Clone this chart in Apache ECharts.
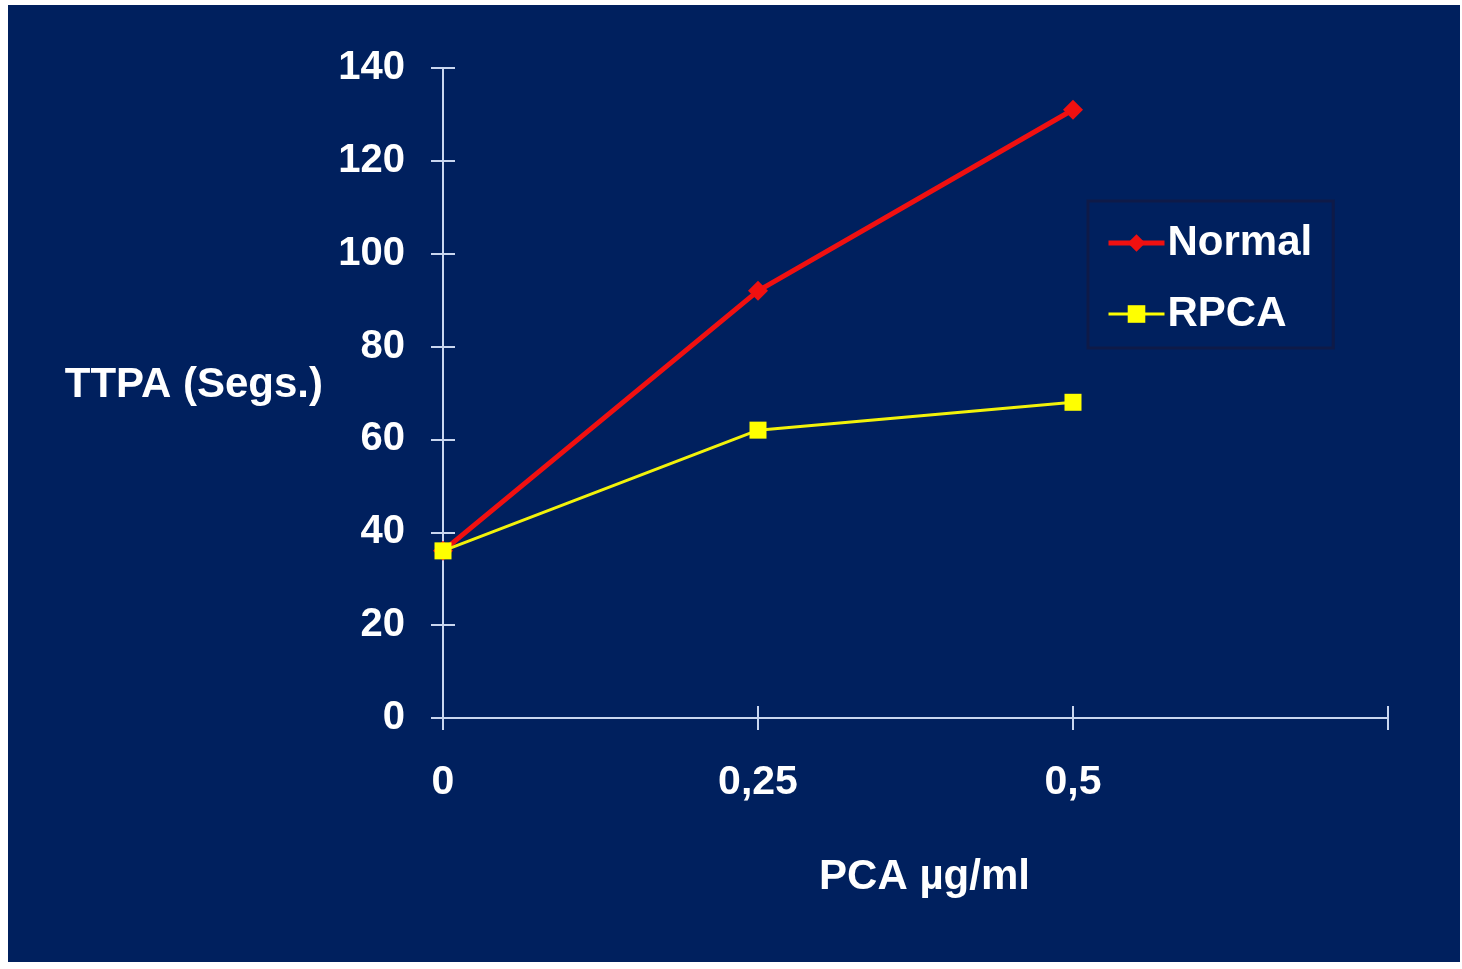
<!DOCTYPE html>
<html>
<head>
<meta charset="utf-8">
<script src="https://cdn.jsdelivr.net/npm/echarts@6/dist/echarts.min.js"></script>
<style>
  html, body { margin: 0; padding: 0; background: #ffffff; }
  #chart { position: absolute; left: 8px; top: 5px; width: 1452px; height: 957px; background: #00205e; }
</style>
</head>
<body>
<div id="chart"></div>
<script>
const categories = ['0', '0,25', '0,5', ''];
const normalValues = [36, 92, 131];
const rpcaValues = [36, 62, 68];
const yTicks = { min: 0, max: 140, interval: 20 };

const axisColor = '#c9d6ef';
const redColor = '#f01010';
const yellowColor = '#ffff00';
const font = '"Liberation Sans", Arial, sans-serif';

const chart = echarts.init(document.getElementById('chart'));
chart.setOption({
  backgroundColor: '#00205e',
  animation: false,
  grid: { left: 435, right: 72, top: 63, bottom: 244, containLabel: false },
  legend: {
    orient: 'vertical',
    left: 1080,
    top: 196,
    padding: [21, 21, 13, 18],
    itemGap: 29,
    itemWidth: 56,
    itemHeight: 22,
    borderColor: '#0e1a48',
    borderWidth: 3,
    textStyle: { color: '#ffffff', fontSize: 42, fontWeight: 'bold', fontFamily: font, padding: [0, 0, 0, -2] },
    data: [
      { name: 'Normal', lineStyle: { width: 5, color: redColor }, itemStyle: { color: redColor } },
      { name: 'RPCA', lineStyle: { width: 3, color: yellowColor }, itemStyle: { color: yellowColor } }
    ]
  },
  xAxis: [
    {
      type: 'category', data: categories, boundaryGap: false, position: 'bottom',
      axisLine: { lineStyle: { color: axisColor, width: 2 } },
      axisTick: { show: true, inside: false, length: 12, lineStyle: { color: axisColor, width: 2 } },
      axisLabel: { color: '#ffffff', fontSize: 41, fontWeight: 'bold', fontFamily: font, margin: 44, interval: 0 },
      splitLine: { show: false },
      name: 'PCA µg/ml', nameLocation: 'middle', nameGap: 138,
      nameTextStyle: { color: '#ffffff', fontSize: 42, fontWeight: 'bold', fontFamily: font, padding: [0, 0, 0, 18] }
    },
    {
      type: 'category', data: categories, boundaryGap: false, position: 'bottom', offset: 0,
      axisLine: { show: false },
      axisTick: { show: true, inside: true, length: 12, lineStyle: { color: axisColor, width: 2 } },
      axisLabel: { show: false }, splitLine: { show: false }
    }
  ],
  yAxis: [
    {
      type: 'value', min: yTicks.min, max: yTicks.max, interval: yTicks.interval, position: 'left',
      axisLine: { show: true, lineStyle: { color: axisColor, width: 2 } },
      axisTick: { show: true, inside: false, length: 12, lineStyle: { color: axisColor, width: 2 } },
      axisLabel: { color: '#ffffff', fontSize: 40, fontWeight: 'bold', fontFamily: font, margin: 38 },
      splitLine: { show: false },
      name: 'TTPA (Segs.)', nameLocation: 'middle', nameRotate: 0, nameGap: 120,
      nameTextStyle: { color: '#ffffff', fontSize: 42, fontWeight: 'bold', fontFamily: font, align: 'right', verticalAlign: 'bottom', lineHeight: 16 }
    },
    {
      type: 'value', min: yTicks.min, max: yTicks.max, interval: yTicks.interval, position: 'left', offset: 0,
      axisLine: { show: false },
      axisTick: { show: true, inside: true, length: 12, lineStyle: { color: axisColor, width: 2 } },
      axisLabel: { show: false }, splitLine: { show: false }
    }
  ],
  series: [
    {
      name: 'Normal', type: 'line', data: normalValues, xAxisIndex: 0, yAxisIndex: 0,
      symbol: 'diamond', symbolSize: 20,
      lineStyle: { color: redColor, width: 5 },
      itemStyle: { color: redColor }
    },
    {
      name: 'RPCA', type: 'line', data: rpcaValues, xAxisIndex: 0, yAxisIndex: 0,
      symbol: 'rect', symbolSize: 17,
      lineStyle: { color: '#f2f20a', width: 3 },
      itemStyle: { color: yellowColor }
    }
  ]
});
</script>
</body>
</html>
